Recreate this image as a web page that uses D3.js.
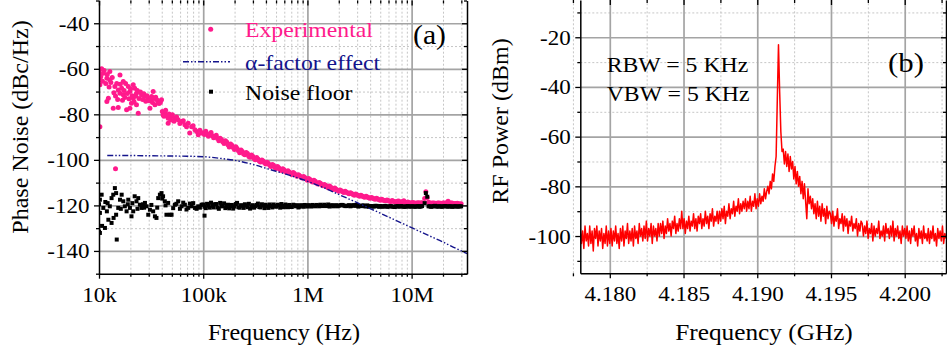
<!DOCTYPE html>
<html><head><meta charset="utf-8">
<script src="https://cdn.jsdelivr.net/npm/d3@7"></script>
<style>html,body{margin:0;padding:0;background:#fff;} svg{display:block;}</style>
</head><body><svg id="chart" width="947" height="350"></svg>
<script>
// ---------------- DATA ----------------
// Panel (a): phase noise, frequency in kHz, value in dBc/Hz
const experimental = [
[10.0,-61.2],[10.1,-64],[10.2,-62.7],[10.6,-60],[11,-61.9],[10.2,-67],[10.2,-85.4],[11.9,-64.1],[12.7,-64.9],[12.7,-61.2],
[12.3,-72.9],[11.9,-74.4],[13.7,-77.3],[15.3,-77],[15.9,-62.7],[14.2,-67.8],[15.3,-69.3],[16.5,-68.5],[15.9,-70.7],[17.1,-71.4],
[17.7,-72.6],[17.1,-65.6],[19.1,-67.8],[19.8,-70],[18.4,-78],[19.8,-77.3],[20.5,-75.1],[21.3,-67],[22,-68.5],[22.9,-70.7],
[21.3,-72.9],[22.9,-75.8],[23.8,-79.5],[25.6,-71.4],[27.6,-72.2],[29.7,-72.9],[32,-72.2],[33.1,-70],[30.8,-77.3],[34.4,-75.8],
[37,-74.4],[39.8,-73.6],[41.2,-80.2],[42.8,-79.5],[46.1,-81.7],[49.7,-81],[53.5,-81.7],[46.1,-83.9],[57.5,-82.4],[62,-83.2],
[66.7,-84.6],[71.8,-83.9],[77.4,-85.4],[74.3,-88.2],[83.3,-86.8],[89.6,-89],[96.5,-88.2],[14.4,-103.9],
[10.4,-63.5],[10.8,-65.5],[11.2,-60.8],[11.6,-66.5],[12.0,-62.5],[12.5,-68],[13.0,-66],[13.4,-63.8],[13.9,-70.5],[14.4,-72],
[14.8,-66.5],[15.1,-73.5],[16.0,-66.8],[16.8,-73.8],[17.4,-69.5],[18.0,-66.5],[18.7,-70.8],[19.4,-73.2],[20.1,-68.8],[20.8,-71.8],
[21.7,-74.5],[22.5,-72],[23.3,-69.5],[24.2,-73],[25.0,-70.2],[26.2,-73.5],[26.9,-71],[28.1,-74.3],[28.9,-71.8],[30.3,-74],
[31.4,-73.2],[32.6,-74.8],[33.8,-73],[35.0,-72.5],[36.3,-73.8],[37.7,-75.2],[38.8,-74.8],[40.5,-78.8],[42,-80.8],[43.6,-78.2],
[45.2,-80.5],[47,-79.8],[48.8,-82.5],[50.6,-80.2],[52.5,-83],[55.5,-81.2],[59.7,-84],[64.4,-82.8],[69.2,-85.5],[80,-85],
[86.5,-87.5],[93,-87],
[100,-88.2],[105.9,-87.4],[112.2,-89.6],[118.9,-88.0],[125.9,-90.3],[133.4,-89.2],[141.3,-91.6],[149.6,-91.0],[158.5,-92.8],[167.9,-92.1],
[177.8,-94.3],[188.4,-93.6],[199.5,-95.4],[211.3,-95.0],[223.9,-96.9],[237.1,-96.3],[251.2,-97.8],[266.1,-97.2],[281.8,-98.9],[298.5,-98.4],
[316.2,-99.9],[335,-99.6],[354.8,-100.9],[375.8,-100.5],[398.1,-101.8],[421.7,-101.6],[446.7,-102.9],[473.2,-102.4],[501.2,-103.8],[530.9,-103.5],
[562.3,-104.7],[595.7,-104.3],[631,-105.6],[668.3,-105.3],[707.9,-106.4],[749.9,-106.0],[794.3,-107.2],[841.4,-107.0],[891.3,-108.0],[944.1,-107.7],
[1000,-108.9],[1059,-108.6],[1122,-109.7],[1189,-109.4],[1259,-110.6],[1334,-110.3],[1413,-111.4],[1496,-111.1],[1585,-112.2],[1679,-112.0],
[1778,-113.0],[1884,-112.9],[1995,-113.8],[2113,-113.6],[2239,-114.3],[2371,-114.2],[2512,-114.9],[2661,-114.8],[2818,-115.5],[2985,-115.3],
[3162,-116.0],[3350,-115.9],[3548,-116.4],[3758,-116.3],[3981,-116.9],[4217,-116.8],[4467,-117.3],[4732,-117.2],[5012,-117.7],[5309,-117.6],
[5623,-118.0],[5957,-117.9],[6310,-118.3],[6683,-118.2],[7079,-118.5],[7499,-118.1],[7943,-118.6],[8414,-118.0],[8913,-118.7],[9441,-118.8],
[10000,-118.9],[10593,-118.9],[11220,-119.0],[11885,-119.0],[12589,-118.8],[13335,-117.0],[13700,-114.0],[14125,-116.5],[14962,-118.9],[15849,-119.0],
[16788,-119.1],[17783,-119.0],[18836,-119.1],[19953,-119.0],[21135,-119.1],[22387,-118.2],[23714,-119.0],[25119,-119.2],[26607,-119.2],[28184,-119.3],
[29854,-119.3],
[102.9,-88.9],[108.9,-88.6],[115.5,-89.0],[122.3,-89.4],[129.6,-89.9],[137.3,-90.6],[145.4,-90.5],[154.0,-92.0],[163.2,-91.6],[172.9,-93.4],
[183.1,-93.0],[194.0,-94.6],[205.5,-94.2],[217.8,-96.0],[230.7,-95.7],[244.3,-97.4],[258.8,-96.8],[274.2,-98.5],[290.4,-97.9],[307.7,-99.4],
[325.9,-99.0],[345.3,-100.5],[365.8,-100.1],[387.5,-101.3],[410.5,-101.0],[434.8,-102.4],[460.6,-102.0],[487.9,-103.3],[516.9,-102.9],[547.5,-104.2],
[580.1,-103.9],[614.4,-105.1],[650.9,-104.8],[689.5,-105.9],[730.4,-105.6],[773.7,-106.7],[819.6,-106.5],[868.2,-107.5],[919.7,-107.3],[974.3,-108.4],
[1029,-108.2],[1089,-109.3],[1155,-109.0],[1223,-110.2],[1296,-109.9],[1373,-111.0],[1454,-110.8],[1540,-111.8],[1632,-111.5],[1729,-112.6],
[1831,-112.4],[1940,-113.4],[2055,-113.2],[2178,-114.0],[2307,-113.8],[2443,-114.6],[2588,-114.4],[2742,-115.2],[2904,-115.0],[3077,-115.7],
[3259,-115.5],[3453,-116.2],[3658,-116.0],[3875,-116.6],[4105,-116.5],[4348,-117.1],[4606,-116.9],[4879,-117.5],[5169,-117.3],[5475,-117.8],
[5801,-117.6],[6144,-118.2],[6509,-117.9],[6895,-118.4],[7304,-118.2],[7737,-118.5],[8196,-118.3],[8682,-118.7],[9197,-118.5],[9743,-118.9],
[10290,-118.7],[10890,-119.1],[11550,-118.8],[12230,-119.0],[14540,-118.6],[15400,-119.1],[16320,-118.9],[17290,-119.2],[18310,-118.9],[19400,-119.2],
[20550,-118.9],[21780,-118.8],[23070,-119.2],[24430,-119.0],[25880,-119.3],[27420,-119.1],[29040,-119.4]
];
const noiseFloor = [
[10.0,-119.5],[10.0,-131.5],[10.2,-117.5],[10.6,-115.3],[10.2,-123.3],[10.2,-132.1],[10.7,-129],[11.4,-129.9],[11,-121.1],[11.5,-118.5],
[11.9,-122.6],[12.1,-119],[12.7,-120.4],[13.2,-116.8],[12.3,-126.3],[13.2,-127.7],[13.8,-125.5],[14.2,-112.4],[13.7,-115.3],[14.6,-114.6],
[14.6,-124.1],[15.3,-121.1],[15.9,-117.5],[16.2,-121.5],[16.5,-115.3],[14.8,-135],[17.1,-118.2],[17.7,-120.4],[18.4,-122.6],[18.9,-119.5],
[19.1,-117.5],[19.8,-121.1],[20.5,-124.8],[20.9,-119],[21.3,-122.6],[22,-116],[22.9,-118.2],[23.4,-121.5],[23.8,-116.8],[24.7,-119.7],
[25.6,-121.1],[26.5,-119.5],[27.1,-121],[27.6,-118.9],[28.6,-120.4],[29.7,-124.1],[30.8,-121.9],[31.8,-119.8],[33.1,-122.6],[34.4,-124.8],
[35.6,-125.5],[36.2,-121],[37,-116.8],[38.4,-115.3],[39.8,-114.6],[40.4,-117],[41.2,-116],[42.8,-118.2],[43.5,-120],[44.4,-124.1],
[46.1,-118.9],[47.8,-124.1],[49.7,-124.1],[51.5,-121.2],[53.5,-119.7],[55.3,-119.3],[57.5,-118.2],[59.8,-121.5],[62,-120.4],[64.3,-118.8],
[66.7,-119.7],[69.1,-121.8],[71.8,-121.1],[74.5,-119.2],[77.4,-120.4],[80.2,-119],[83.3,-121.1],[86.4,-121.5],[89.6,-120.4],[93,-121],
[96.5,-119.7],[103,-124.5],
[100,-119.6],[105.9,-121.2],[112.2,-120.1],[118.9,-118.8],[125.9,-120.9],[133.4,-119.4],[141.3,-121.5],[149.6,-120.3],[158.5,-119.1],[167.9,-120.7],
[177.8,-121.3],[188.4,-119.8],[199.5,-120.5],[211.3,-118.9],[223.9,-121.0],[237.1,-120.2],[251.2,-119.5],[266.1,-120.8],[281.8,-121.4],[298.5,-119.9],
[316.2,-120.4],[335,-119.2],[354.8,-120.9],[375.8,-120.1],[398.1,-119.7],[421.7,-121.1],[446.7,-120.3],[473.2,-119.6],[501.2,-120.6],[530.9,-120.0],
[562.3,-119.4],[595.7,-120.8],[631,-120.2],[668.3,-119.8],[707.9,-120.7],[749.9,-120.1],[794.3,-119.9],[841.4,-120.6],[891.3,-120.2],[944.1,-119.8],
[1000,-120.5],[1059,-120.1],[1122,-119.8],[1189,-120.4],[1259,-120.0],[1334,-119.7],[1413,-120.3],[1496,-120.2],[1585,-119.6],[1679,-120.1],
[1778,-120.4],[1884,-119.9],[1995,-120.2],[2113,-119.8],[2239,-120.1],[2371,-120.3],[2512,-119.9],[2661,-120.2],[2818,-120.0],[2985,-119.8],
[3162,-120.3],[3350,-120.1],[3548,-120.4],[3758,-120.0],[3981,-120.3],[4217,-120.5],[4467,-120.2],[4732,-120.4],[5012,-120.3],[5309,-120.6],
[5623,-120.2],[5957,-120.5],[6310,-120.3],[6683,-120.6],[7079,-120.4],[7499,-120.5],[7943,-120.3],[8414,-120.6],[8913,-120.4],[9441,-120.5],
[10000,-120.4],[10593,-120.5],[11220,-120.4],[11885,-120.6],[12589,-120.3],[13335,-119.0],[13700,-114.6],[14125,-116.2],[14962,-120.4],[15849,-120.5],
[16788,-120.2],[17783,-120.5],[18836,-120.4],[19953,-120.5],[21135,-120.3],[22387,-120.5],[23714,-120.4],[25119,-120.5],[26607,-120.4],[28184,-120.5],
[29854,-120.4],
[102.9,-120.6],[108.9,-119.3],[115.5,-121.0],[122.3,-120.2],[129.6,-119.5],[137.3,-120.9],[145.4,-118.9],[154.0,-120.4],[163.2,-121.2],[172.9,-119.7],
[183.1,-120.3],[194.0,-121.4],[205.5,-119.4],[217.8,-120.8],[230.7,-119.9],[244.3,-121.1],[258.8,-120.1],[274.2,-119.3],[290.4,-120.6],[307.7,-121.0],
[325.9,-119.8],[345.3,-120.7],[365.8,-119.5],[387.5,-121.2],[410.5,-120.4],[434.8,-119.6],[460.6,-120.9],[487.9,-120.3],[516.9,-119.7],[547.5,-121.0],
[580.1,-120.2],[614.4,-119.6],[650.9,-120.8],[689.5,-120.5],[730.4,-119.7],[773.7,-120.4],[819.6,-120.9],[868.2,-119.9],[919.7,-120.6],[974.3,-120.1],
[1029,-119.9],[1089,-120.5],[1155,-120.2],[1223,-119.8],[1296,-120.4],[1373,-120.1],[1454,-119.7],[1540,-120.3],[1632,-120.5],[1729,-119.9],
[1831,-120.2],[1940,-120.4],[2055,-120.0],[2178,-119.8],[2307,-120.3],[2443,-120.1],[2588,-120.4],[2742,-119.9],[2904,-120.2],[3077,-120.5],
[3259,-120.3],[3453,-120.0],[3658,-120.4],[3875,-120.6],[4105,-120.3],[4348,-120.5],[4606,-120.2],[4879,-120.6],[5169,-120.4],[5475,-120.3],
[5801,-120.6],[6144,-120.4],[6509,-120.5],[6895,-120.7],[7304,-120.3],[7737,-120.5],[8196,-120.4],[8682,-120.6],[9197,-120.3],[9743,-120.5],
[10290,-120.4],[10890,-120.6],[11550,-120.3],[12230,-120.5],[14540,-120.4],[15400,-120.6],[16320,-120.3],[17290,-120.5],[18310,-120.4],[19400,-120.6],
[20550,-120.3],[21780,-120.5],[23070,-120.4],[24430,-120.6],[25880,-120.4],[27420,-120.5],[29040,-120.4]
];
const alphaFactor = [
[12,-98.1],[20,-98.1],[30,-98.2],[50,-98.3],[70,-98.4],[100,-98.6],[150,-99.4],[200,-100.2],[300,-102],[400,-103.7],
[500,-105],[700,-107],[1000,-109.4],[1500,-112.6],[2000,-115.2],[3000,-118.8],[5000,-123.4],[7000,-126.5],[10000,-129.8],
[15000,-133.5],[20000,-136.1],[25000,-138.3],[30000,-140],[34000,-141.2]
];
const xTicksA = [1e4, 1e5, 1e6, 1e7];
const xTickLabelsA = ["10k", "100k", "1M", "10M"];
const yTicksA = [-140, -120, -100, -80, -60, -40];
const yMinorA = [-150, -130, -110, -90, -70, -50, -30];

// Panel (b): RF spectrum, uniformly sampled from 4.178 GHz in 0.08 MHz steps, dBm
const specStartGHz = 4.178;
const specStepGHz = 0.00008;
const specPower = [
-97,-103,-98,-105,-96,-102,-99,-104,-96,-103,-98,-106,-97,-101,-96,-104,-98,-102,-97,-105,-99,-103,-96,-104,-98,
-103,-97,-104,-98,-102,-96,-103,-99,-105,-97,-102,-96,-104,-98,-101,-95,-103,-98,-102,-97,-104,-96,-101,-98,-103,-95,-100,-97,-102,-96,-101,-94,-102,-97,-100,-95,-103,-96,-100,-97,-102,-95,
-100,-95,-99,-94,-101,-96,-99,-93,-98,-95,-100,-94,-97,-92,-99,-95,-98,-93,-97,-90,
-97,-93,-99,-94,-97,-92,-98,-94,-96,-91,-97,-93,-98,-92,-95,-91,-97,-93,-96,-90,-95,-92,-97,-91,-94,-89,-96,-92,-94,-90,-95,
-90,-94,-89,-93,-88,-95,-90,-92,-87,-93,-89,-91,-86,-92,-88,-90,-85,-91,-87,-90,-86,-89,
-85,-90,-86,-89,-84,-90,-86,-88,-83,-89,
-85,-88,-83,-87,-84,-86,-81,-85,-82,-80,
-83,-78,-81,-75,-78,-72,
-68,-45,-23,-42,-58,-66,
-65,-71,-66,-72,-67,-74,-68,-73,
-70,-77,-72,-79,-74,-80,
-76,-83,-78,-85,-79,-86,-93,-81,-87,-84,-89,
-85,-91,-87,-93,-86,-92,-88,-94,-87,-92,-89,-95,-88,-93,-90,
-91,-95,-90,-96,-92,-94,-89,-97,-93,-95,-91,-98,-92,-96,-93,-99,-94,-96,-92,-98,-95,-97,-93,-100,-95,-98,-94,
-95,-100,-96,-99,-94,-101,-97,-99,-95,-102,-96,-100,-97,-99,-94,-101,-98,-100,-96,-102,-95,-99,-97,-101,-96,-100,-94,-102,-97,-100,-96,-101,-98,-103,-96,-100,
-97,-101,-96,-102,-98,-103,-97,-100,-96,-102,-99,-104,-97,-101,-98,-103,-96,-101,-99,-102,-97,-103,-98,-101,-96,-102,-99,-104,-97,-101,-98,-102,-96,-103,-99,-101
];
const xTicksB = [4.180, 4.185, 4.190, 4.195, 4.200];
const xMinorB = [4.1775, 4.1825, 4.1875, 4.1925, 4.1975, 4.2025];
const yTicksB = [-100, -80, -60, -40, -20];
const yMinorB = [-110, -90, -70, -50, -30, -10];

// ---------------- DRAWING ----------------
const FONT = '"Liberation Serif","Times New Roman",serif';
const PINK = "#ff1a8c", NAVY = "#14148c", RED = "#ff0000";
const svg = d3.select("#chart");

function grid(axisGen, tr, color, width, dash) {
  const g = svg.append("g").attr("transform", tr).call(axisGen);
  g.select(".domain").remove();
  g.selectAll("text").remove();
  g.selectAll("line").attr("stroke", color).attr("stroke-width", width).attr("stroke-dasharray", dash);
}
function axis(axisGen, tr, keepDomain) {
  const g = svg.append("g").attr("transform", tr).call(axisGen);
  if (!keepDomain) g.select(".domain").remove();
  else g.select(".domain").attr("stroke", "#000").attr("stroke-width", 1.5);
  g.selectAll("line").attr("stroke", "#000").attr("stroke-width", 1.3);
  return g;
}
function label(x, y, str, size, sx, anchor, fill, rot) {
  return svg.append("text")
    .attr("transform", `translate(${x},${y})` + (rot ? ` rotate(${rot})` : "") + (sx !== 1 ? ` scale(${sx},1)` : ""))
    .attr("font-family", FONT).attr("font-size", size).attr("text-anchor", anchor).attr("fill", fill || "#000")
    .text(str);
}
const fmtNeg = d => (d < 0 ? "-" + Math.abs(d) : String(d));
const SX = 1.15;

// ===== Panel A =====
const A = {left: 99, right: 467, top: 0.5, bottom: 273.7};
const xA = d3.scaleLog().domain([1e4, 3.4e7]).range([A.left, A.right]);
const yA = d3.scaleLinear().domain([-150, -30]).range([A.bottom, A.top]);
const xMinorA = [];
xTicksA.forEach(d => { for (let m = 2; m <= 9; m++) if (m * d < 3.4e7) xMinorA.push(m * d); });

grid(d3.axisBottom(xA).tickValues(xMinorA).tickSize(-A.bottom).tickFormat(""), `translate(0,${A.bottom})`, "#c6c6c6", 1, "2,2");
grid(d3.axisLeft(yA).tickValues(yMinorA.filter(d => d > -150 && d < -30)).tickSize(-(A.right - A.left)).tickFormat(""), `translate(${A.left},0)`, "#c6c6c6", 1, "2,2");
grid(d3.axisBottom(xA).tickValues(xTicksA.slice(1)).tickSize(-A.bottom).tickFormat(""), `translate(0,${A.bottom})`, "#a4a4a4", 1.7, null);
grid(d3.axisLeft(yA).tickValues(yTicksA).tickSize(-(A.right - A.left)).tickFormat(""), `translate(${A.left},0)`, "#a4a4a4", 1.7, null);

svg.append("clipPath").attr("id", "clipA").append("rect").attr("x", A.left).attr("y", 0).attr("width", A.right - A.left).attr("height", A.bottom);
const dA = svg.append("g").attr("clip-path", "url(#clipA)");
dA.selectAll("circle").data(experimental).join("circle")
  .attr("cx", d => xA(d[0] * 1e3)).attr("cy", d => yA(d[1])).attr("r", 2.5).attr("fill", PINK);
dA.selectAll("rect").data(noiseFloor).join("rect")
  .attr("x", d => xA(d[0] * 1e3) - 2).attr("y", d => yA(d[1]) - 2).attr("width", 4).attr("height", 4).attr("fill", "#000");
dA.append("path").datum(alphaFactor)
  .attr("d", d3.line().x(d => xA(d[0] * 1e3)).y(d => yA(d[1])).curve(d3.curveMonotoneX))
  .attr("fill", "none").attr("stroke", NAVY).attr("stroke-width", 1.4).attr("stroke-dasharray", "6,2,1.5,2,1.5,2");

// axes A
const gxA = axis(d3.axisBottom(xA).tickValues(xTicksA).tickFormat((d, i) => xTickLabelsA[i]).tickSize(5).tickSizeOuter(0), `translate(0,${A.bottom})`, true);
gxA.selectAll("text").attr("font-family", FONT).attr("font-size", 20).attr("fill", "#000").attr("y", 28).attr("dy", 0).attr("transform", `scale(${SX},1)`);
axis(d3.axisBottom(xA).tickValues(xMinorA).tickSize(3).tickFormat(""), `translate(0,${A.bottom})`, false);
const gyA = axis(d3.axisLeft(yA).tickValues(yTicksA).tickFormat(fmtNeg).tickSize(5).tickSizeOuter(0), `translate(${A.left},0)`, true);
gyA.selectAll("text").attr("font-family", FONT).attr("font-size", 20).attr("fill", "#000").attr("x", -9.5 / SX).attr("dy", "0.35em").attr("transform", `scale(${SX},1)`);
axis(d3.axisLeft(yA).tickValues(yMinorA).tickSize(3).tickFormat(""), `translate(${A.left},0)`, false);
axis(d3.axisLeft(yA).tickValues(yTicksA).tickSize(5).tickSizeOuter(0).tickFormat(""), `translate(${A.right},0)`, true);
axis(d3.axisLeft(yA).tickValues(yMinorA).tickSize(3).tickFormat(""), `translate(${A.right},0)`, false);
axis(d3.axisBottom(xA).tickValues(xTicksA).tickSize(5).tickFormat(""), `translate(0,${A.top})`, false);
axis(d3.axisBottom(xA).tickValues(xMinorA).tickSize(3).tickFormat(""), `translate(0,${A.top})`, false);

label(284, 340, "Frequency (Hz)", 23, 1.05, "middle");
label(27.5, 127, "Phase Noise (dBc/Hz)", 24, 1, "middle", "#000", -90);

// legend A
svg.append("circle").attr("cx", 210.7).attr("cy", 29.3).attr("r", 2.5).attr("fill", PINK);
label(245, 37, "Experimental", 22, 1.08, "start", PINK);
svg.append("line").attr("x1", 183).attr("x2", 230).attr("y1", 61.7).attr("y2", 61.7)
  .attr("stroke", NAVY).attr("stroke-width", 1.4).attr("stroke-dasharray", "6,2,1.5,2,1.5,2");
label(245, 69.5, "\u03b1-factor effect", 22, 1.08, "start", NAVY);
svg.append("rect").attr("x", 209).attr("y", 89.7).attr("width", 4).attr("height", 4).attr("fill", "#000");
label(245, 99.5, "Noise floor", 22, 1.08, "start");
label(413, 44, "(a)", 27, 1.1, "start");

// ===== Panel B =====
const B = {left: 580.3, right: 946, top: 0, bottom: 273.3};
const xB = d3.scaleLinear().domain([4.178, 4.2028]).range([B.left, B.right]);
const yB = d3.scaleLinear().domain([-115, -5]).range([B.bottom, B.top]);

grid(d3.axisBottom(xB).tickValues(xMinorB).tickSize(-B.bottom).tickFormat(""), `translate(0,${B.bottom})`, "#c6c6c6", 1, "2,2");
grid(d3.axisLeft(yB).tickValues(yMinorB).tickSize(-(B.right - B.left)).tickFormat(""), `translate(${B.left},0)`, "#c6c6c6", 1, "2,2");
grid(d3.axisBottom(xB).tickValues(xTicksB).tickSize(-B.bottom).tickFormat(""), `translate(0,${B.bottom})`, "#a4a4a4", 1.7, null);
grid(d3.axisLeft(yB).tickValues(yTicksB).tickSize(-(B.right - B.left)).tickFormat(""), `translate(${B.left},0)`, "#a4a4a4", 1.7, null);

svg.append("clipPath").attr("id", "clipB").append("rect").attr("x", B.left).attr("y", 0).attr("width", B.right - B.left).attr("height", B.bottom);
const specFreq = d3.range(specPower.length).map(i => specStartGHz + i * specStepGHz);
svg.append("g").attr("clip-path", "url(#clipB)").append("path").datum(specPower)
  .attr("d", d3.line().x((d, i) => xB(specFreq[i])).y(d => yB(d)))
  .attr("fill", "none").attr("stroke", RED).attr("stroke-width", 1.5).attr("stroke-linejoin", "round");

const gxB = axis(d3.axisBottom(xB).tickValues(xTicksB).tickFormat(d3.format(".3f")).tickSize(5).tickSizeOuter(0), `translate(0,${B.bottom})`, true);
gxB.selectAll("text").attr("font-family", FONT).attr("font-size", 20).attr("fill", "#000").attr("y", 28).attr("dy", 0).attr("transform", `scale(${SX},1)`);
axis(d3.axisBottom(xB).tickValues(xMinorB).tickSize(3).tickFormat(""), `translate(0,${B.bottom})`, false);
const gyB = axis(d3.axisLeft(yB).tickValues(yTicksB).tickFormat(fmtNeg).tickSize(5).tickSizeOuter(0), `translate(${B.left},0)`, true);
gyB.selectAll("text").attr("font-family", FONT).attr("font-size", 20).attr("fill", "#000").attr("x", -9.6 / SX).attr("dy", "0.35em").attr("transform", `scale(${SX},1)`);
axis(d3.axisLeft(yB).tickValues(yMinorB).tickSize(3).tickFormat(""), `translate(${B.left},0)`, false);
axis(d3.axisLeft(yB).tickValues(yTicksB).tickSize(5).tickSizeOuter(0).tickFormat(""), `translate(${B.right},0)`, true);
axis(d3.axisLeft(yB).tickValues(yMinorB).tickSize(3).tickFormat(""), `translate(${B.right},0)`, false);
axis(d3.axisBottom(xB).tickValues(xTicksB).tickSize(5).tickFormat(""), `translate(0,${B.top})`, false);
axis(d3.axisBottom(xB).tickValues(xMinorB).tickSize(3).tickFormat(""), `translate(0,${B.top})`, false);

label(764, 340, "Frequency (GHz)", 23, 1.1, "middle");
label(507.5, 121, "RF Power (dBm)", 24, 1, "middle", "#000", -90);
label(606.7, 71.8, "RBW = 5 KHz", 22, 1.08, "start");
label(606.7, 101, "VBW = 5 KHz", 22, 1.08, "start");
label(888, 72, "(b)", 28, 1.1, "start");
</script>
</body></html>
